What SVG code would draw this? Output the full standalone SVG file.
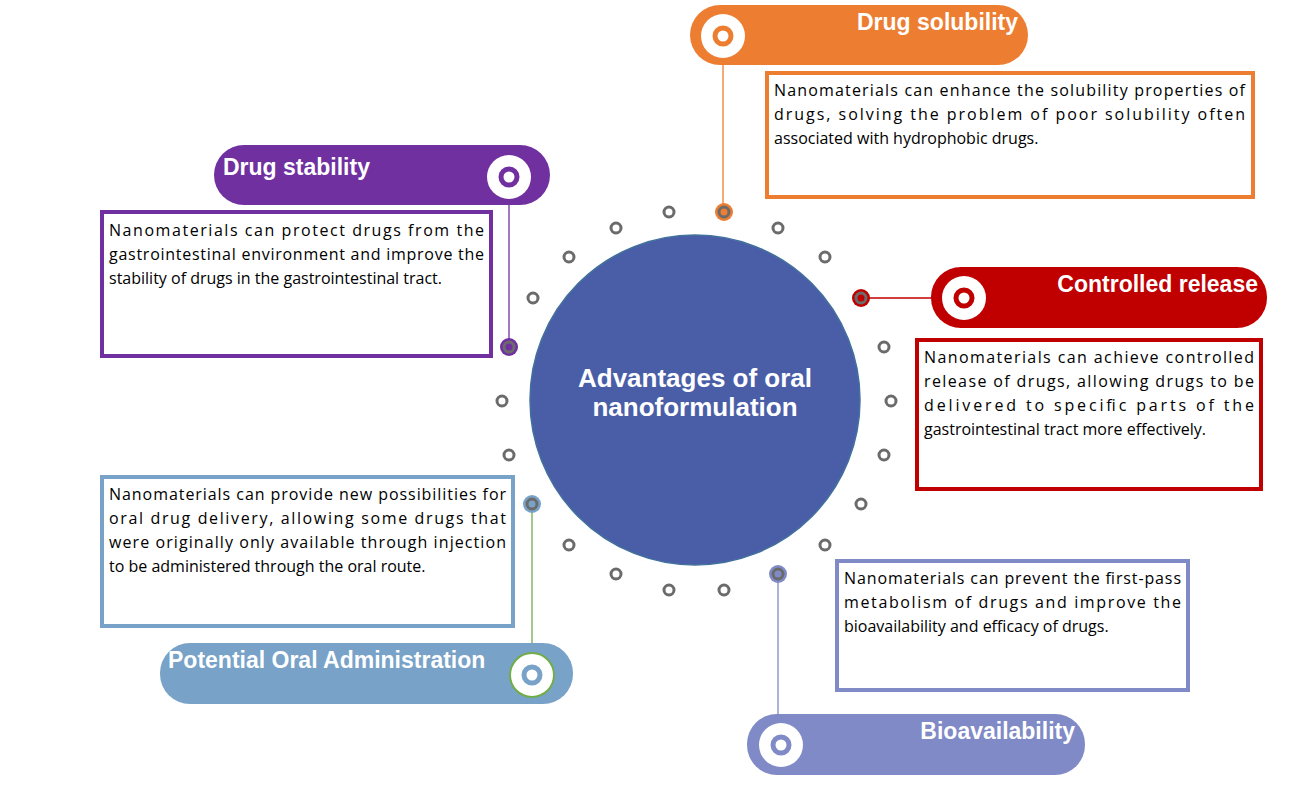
<svg xmlns="http://www.w3.org/2000/svg" width="1315" height="790" viewBox="0 0 1315 790">
<style>
.d{fill:none;stroke:#6b6b6b;stroke-width:3}
.t{font-family:"Open Sans","Liberation Sans",sans-serif;font-size:16px;fill:#000}
.h{font-family:"Liberation Sans",Arial,sans-serif;font-size:23px;font-weight:bold;fill:#fff}
.b{fill:#fff;stroke-width:4}
</style>
<rect width="1315" height="790" fill="#fff"/>
<g id="connectors" stroke-width="1.3">
<line x1="723" y1="58" x2="723" y2="206" stroke="#ED7D31"/>
<line x1="509" y1="200" x2="509" y2="341" stroke="#7030A0"/>
<line x1="867" y1="298" x2="932" y2="298" stroke="#C00000"/>
<line x1="532" y1="510" x2="532" y2="655" stroke="#70AD47"/>
<line x1="778" y1="580" x2="778" y2="716" stroke="#7F8AC6"/>
</g>
<g id="dots">
<circle class="d" cx="669" cy="212" r="5"/><circle class="d" cx="616" cy="228" r="5"/><circle class="d" cx="569" cy="257" r="5"/><circle class="d" cx="533" cy="298" r="5"/><circle class="d" cx="502" cy="401" r="5"/><circle class="d" cx="509" cy="455" r="5"/><circle class="d" cx="569" cy="545" r="5"/><circle class="d" cx="616" cy="574" r="5"/><circle class="d" cx="669" cy="590" r="5"/><circle class="d" cx="724" cy="590" r="5"/><circle class="d" cx="825" cy="545" r="5"/><circle class="d" cx="861" cy="504" r="5"/><circle class="d" cx="884" cy="455" r="5"/><circle class="d" cx="891" cy="401" r="5"/><circle class="d" cx="884" cy="347" r="5"/><circle class="d" cx="825" cy="257" r="5"/><circle class="d" cx="778" cy="228" r="5"/>
<circle cx="724" cy="212" r="9" fill="#ED7D31"/><circle class="d" cx="724" cy="212" r="5" fill="#fff"/>
<circle cx="861" cy="298" r="9" fill="#C00000"/><circle class="d" cx="861" cy="298" r="5" fill="#fff"/>
<circle cx="509" cy="347" r="9" fill="#7030A0"/><circle class="d" cx="509" cy="347" r="5" fill="#fff"/>
<circle cx="532" cy="504" r="9" fill="#78A2C8"/><circle class="d" cx="532" cy="504" r="5" fill="#fff"/>
<circle cx="778" cy="574" r="9" fill="#7F8AC6"/><circle class="d" cx="778" cy="574" r="5" fill="#fff"/>
</g>
<g id="center">
<circle cx="695" cy="400" r="165" fill="#4A5EA8" stroke="#41719C" stroke-width="1.5"/>
<text x="695" y="387" text-anchor="middle" class="h" style="font-size:26px">Advantages of oral</text>
<text x="695" y="416" text-anchor="middle" class="h" style="font-size:26px">nanoformulation</text>
</g>
<g id="solubility">
<rect x="690" y="5" width="338" height="60" rx="30" fill="#ED7D31"/>
<circle cx="723" cy="36" r="22" fill="#fff"/><circle cx="723" cy="36" r="8" fill="none" stroke="#ED7D31" stroke-width="5"/>
<text x="1018" y="30" text-anchor="end" class="h">Drug solubility</text>
<rect x="767" y="73" width="486" height="124" class="b" stroke="#ED7D31"/>
<text class="t"><tspan x="774" y="96" textLength="471" lengthAdjust="spacing">Nanomaterials can enhance the solubility properties of</tspan><tspan x="774" y="120" textLength="471" lengthAdjust="spacing">drugs, solving the problem of poor solubility often</tspan><tspan x="774" y="144">associated with hydrophobic drugs.</tspan></text>
</g>
<g id="stability">
<rect x="214" y="145" width="336" height="60" rx="30" fill="#7030A0"/>
<circle cx="509" cy="177" r="22" fill="#fff"/><circle cx="509" cy="177" r="8" fill="none" stroke="#7030A0" stroke-width="5"/>
<text x="223" y="175" class="h">Drug stability</text>
<rect x="102" y="212" width="389" height="144" class="b" stroke="#7030A0"/>
<text class="t"><tspan x="109" y="236" textLength="375" lengthAdjust="spacing">Nanomaterials can protect drugs from the</tspan><tspan x="109" y="260" textLength="375" lengthAdjust="spacing">gastrointestinal environment and improve the</tspan><tspan x="109" y="284">stability of drugs in the gastrointestinal tract.</tspan></text>
</g>
<g id="controlled">
<rect x="931" y="267" width="336" height="61" rx="30" fill="#C00000"/>
<circle cx="964" cy="298" r="22" fill="#fff"/><circle cx="964" cy="298" r="8" fill="none" stroke="#C00000" stroke-width="5"/>
<text x="1258" y="292" text-anchor="end" class="h">Controlled release</text>
<rect x="917" y="340" width="344" height="149" class="b" stroke="#C00000"/>
<text class="t"><tspan x="924" y="363" textLength="330" lengthAdjust="spacing">Nanomaterials can achieve controlled</tspan><tspan x="924" y="387" textLength="330" lengthAdjust="spacing">release of drugs, allowing drugs to be</tspan><tspan x="924" y="411" textLength="330" lengthAdjust="spacing">delivered to specific parts of the</tspan><tspan x="924" y="435">gastrointestinal tract more effectively.</tspan></text>
</g>
<g id="oral">
<rect x="160" y="643" width="413" height="61" rx="30" fill="#78A2C8"/>
<circle cx="532" cy="675" r="22" fill="#fff" stroke="#70AD47" stroke-width="2"/><circle cx="532" cy="675" r="8" fill="none" stroke="#78A2C8" stroke-width="5"/>
<text x="168" y="668" class="h">Potential Oral Administration</text>
<rect x="102" y="477" width="411" height="149" class="b" stroke="#78A2C8"/>
<text class="t"><tspan x="109" y="500" textLength="397" lengthAdjust="spacing">Nanomaterials can provide new possibilities for</tspan><tspan x="109" y="524" textLength="397" lengthAdjust="spacing">oral drug delivery, allowing some drugs that</tspan><tspan x="109" y="548" textLength="397" lengthAdjust="spacing">were originally only available through injection</tspan><tspan x="109" y="572">to be administered through the oral route.</tspan></text>
</g>
<g id="bioavailability">
<rect x="747" y="714" width="338" height="61" rx="30" fill="#7F8AC6"/>
<circle cx="781" cy="745" r="22" fill="#fff"/><circle cx="781" cy="745" r="8" fill="none" stroke="#7F8AC6" stroke-width="5"/>
<text x="1075" y="739" text-anchor="end" class="h">Bioavailability</text>
<rect x="837" y="561" width="351" height="129" class="b" stroke="#7F8AC6"/>
<text class="t"><tspan x="844" y="584" textLength="337" lengthAdjust="spacing">Nanomaterials can prevent the first-pass</tspan><tspan x="844" y="608" textLength="337" lengthAdjust="spacing">metabolism of drugs and improve the</tspan><tspan x="844" y="632">bioavailability and efficacy of drugs.</tspan></text>
</g>
</svg>
